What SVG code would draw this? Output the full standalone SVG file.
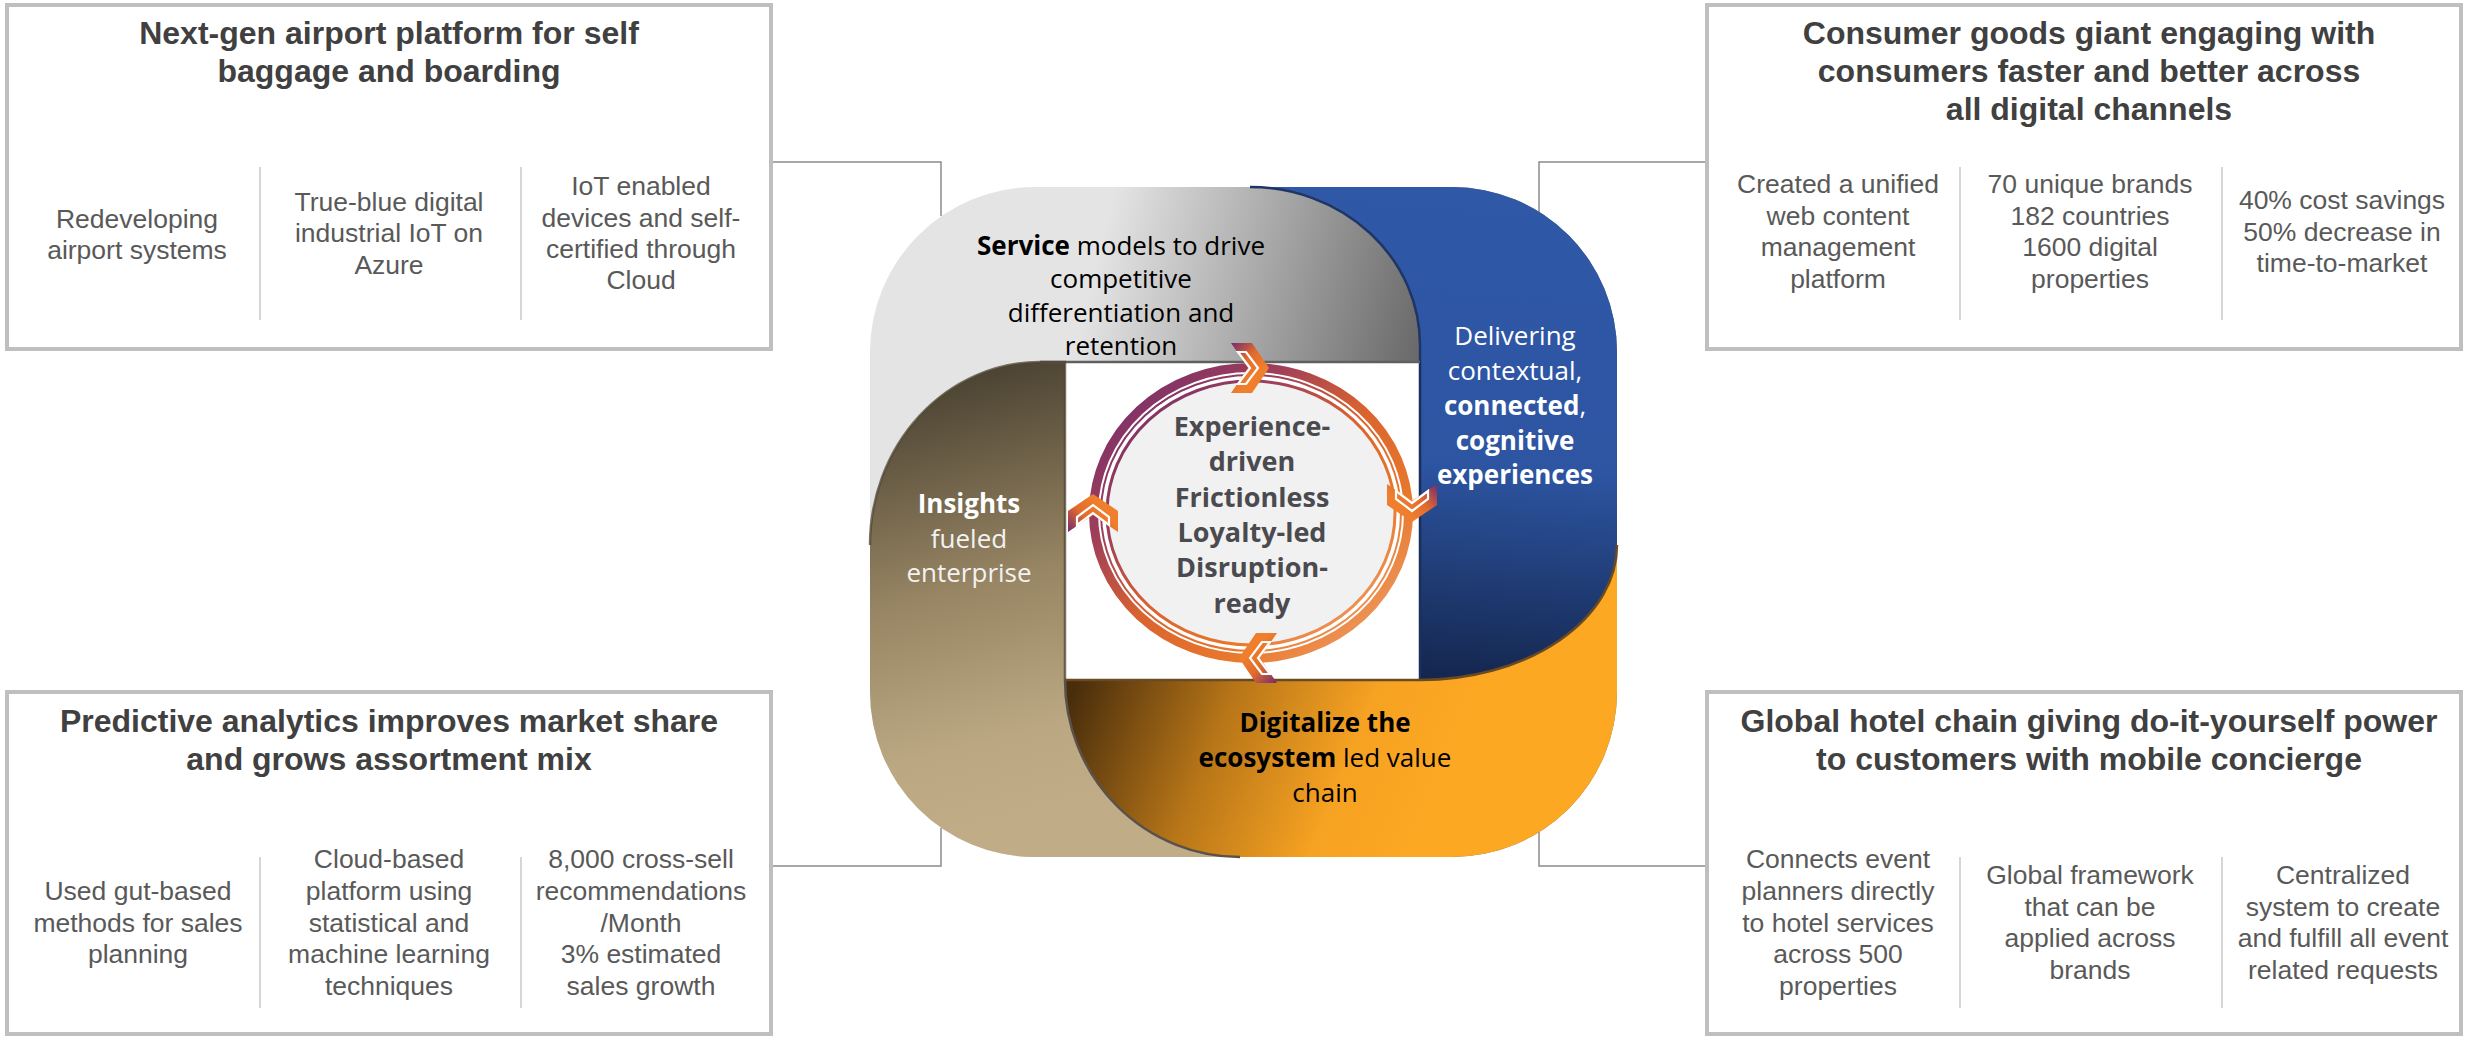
<svg xmlns="http://www.w3.org/2000/svg" xmlns:xlink="http://www.w3.org/1999/xlink" width="2469" height="1038" viewBox="0 0 2469 1038">
<style>
.box{fill:#fff;stroke:#bfbfbf;stroke-width:4}
.dv{stroke:#c8c8c8;stroke-width:1.5}
.ttl{font-family:"Liberation Sans",Arial,sans-serif;font-weight:bold;font-size:32px;fill:#404040;text-anchor:middle}
.bd{font-family:"Liberation Sans",Arial,sans-serif;font-size:26.5px;fill:#595959;text-anchor:middle}
.conn{fill:none;stroke:#8c8c8c;stroke-width:1.5}
.sg{font-family:"Segoe UI","Open Sans",sans-serif;font-size:26px;text-anchor:middle}
.b{font-weight:bold}
.edge{fill:none;stroke-width:2.5}
</style>
<defs>
<linearGradient id="gGray" gradientUnits="userSpaceOnUse" x1="1100" y1="250" x2="1420" y2="330">
<stop offset="0" stop-color="#e4e4e4"/><stop offset="1" stop-color="#6b6b6b"/>
</linearGradient>
<linearGradient id="gBlue" gradientUnits="userSpaceOnUse" x1="1500" y1="187" x2="1460" y2="690">
<stop offset="0" stop-color="#2f58a7"/><stop offset="0.55" stop-color="#2d55a2"/><stop offset="1" stop-color="#13244a"/>
</linearGradient>
<linearGradient id="gOrange" gradientUnits="userSpaceOnUse" x1="1075" y1="690" x2="1420" y2="830">
<stop offset="0" stop-color="#4a2e0c"/><stop offset="0.4" stop-color="#b87618"/><stop offset="0.75" stop-color="#f6a222"/><stop offset="1" stop-color="#fda823"/>
</linearGradient>
<linearGradient id="gBrown" gradientUnits="userSpaceOnUse" x1="930" y1="390" x2="1040" y2="820">
<stop offset="0" stop-color="#4e4534"/><stop offset="0.45" stop-color="#978563"/><stop offset="0.8" stop-color="#bba883"/><stop offset="1" stop-color="#c0ac87"/>
</linearGradient>
<linearGradient id="gRing" x1="0" y1="0" x2="1" y2="1">
<stop offset="0" stop-color="#6b2a72"/><stop offset="0.3" stop-color="#a13f58"/><stop offset="0.5" stop-color="#d9632f"/><stop offset="0.72" stop-color="#e8782c"/><stop offset="1" stop-color="#f0a878"/>
</linearGradient>
<linearGradient id="gChev" x1="0" y1="0" x2="0.55" y2="0.75">
<stop offset="0" stop-color="#732a70"/><stop offset="0.55" stop-color="#e26b2c"/><stop offset="1" stop-color="#ef7f2c"/>
</linearGradient>
<g id="chev">
<polygon points="-19,-25 2,-25 19,0 2,25 -19,25 -2,0" fill="url(#gChev)"/>
<polygon points="-12,-16 -4,-16 8,0 -4,16 -12,16 0,0" fill="none" stroke="#fff" stroke-width="2.2"/>
</g>
</defs>

<g id="connectors">
<path class="conn" d="M773 162 H941 V216"/>
<path class="conn" d="M1705 162 H1539 V212"/>
<path class="conn" d="M773 866 H941 V828"/>
<path class="conn" d="M1705 866 H1539 V832"/>
</g>

<g id="box-airport">
<rect class="box" x="7" y="5" width="764" height="344"/>
<text class="ttl" x="389" y="44">Next-gen airport platform for self</text>
<text class="ttl" x="389" y="82">baggage and boarding</text>
<line class="dv" x1="260" y1="167" x2="260" y2="320"/>
<line class="dv" x1="521" y1="167" x2="521" y2="320"/>
<text class="bd" x="137" y="228">Redeveloping</text>
<text class="bd" x="137" y="259">airport systems</text>
<text class="bd" x="389" y="211">True-blue digital</text>
<text class="bd" x="389" y="242">industrial IoT on</text>
<text class="bd" x="389" y="274">Azure</text>
<text class="bd" x="641" y="195">IoT enabled</text>
<text class="bd" x="641" y="227">devices and self-</text>
<text class="bd" x="641" y="258">certified through</text>
<text class="bd" x="641" y="289">Cloud</text>
</g>

<g id="box-consumer">
<rect class="box" x="1707" y="5" width="754" height="344"/>
<text class="ttl" x="2089" y="44">Consumer goods giant engaging with</text>
<text class="ttl" x="2089" y="82">consumers faster and better across</text>
<text class="ttl" x="2089" y="120">all digital channels</text>
<line class="dv" x1="1960" y1="167" x2="1960" y2="320"/>
<line class="dv" x1="2222" y1="167" x2="2222" y2="320"/>
<text class="bd" x="1838" y="193">Created a unified</text>
<text class="bd" x="1838" y="225">web content</text>
<text class="bd" x="1838" y="256">management</text>
<text class="bd" x="1838" y="288">platform</text>
<text class="bd" x="2090" y="193">70 unique brands</text>
<text class="bd" x="2090" y="225">182 countries</text>
<text class="bd" x="2090" y="256">1600 digital</text>
<text class="bd" x="2090" y="288">properties</text>
<text class="bd" x="2342" y="209">40% cost savings</text>
<text class="bd" x="2342" y="241">50% decrease in</text>
<text class="bd" x="2342" y="272">time-to-market</text>
</g>

<g id="box-predictive">
<rect class="box" x="7" y="692" width="764" height="342"/>
<text class="ttl" x="389" y="732">Predictive analytics improves market share</text>
<text class="ttl" x="389" y="770">and grows assortment mix</text>
<line class="dv" x1="260" y1="857" x2="260" y2="1008"/>
<line class="dv" x1="521" y1="857" x2="521" y2="1008"/>
<text class="bd" x="138" y="900">Used gut-based</text>
<text class="bd" x="138" y="932">methods for sales</text>
<text class="bd" x="138" y="963">planning</text>
<text class="bd" x="389" y="868">Cloud-based</text>
<text class="bd" x="389" y="900">platform using</text>
<text class="bd" x="389" y="932">statistical and</text>
<text class="bd" x="389" y="963">machine learning</text>
<text class="bd" x="389" y="995">techniques</text>
<text class="bd" x="641" y="868">8,000 cross-sell</text>
<text class="bd" x="641" y="900">recommendations</text>
<text class="bd" x="641" y="932">/Month</text>
<text class="bd" x="641" y="963">3% estimated</text>
<text class="bd" x="641" y="995">sales growth</text>
</g>

<g id="box-hotel">
<rect class="box" x="1707" y="692" width="754" height="342"/>
<text class="ttl" x="2089" y="732">Global hotel chain giving do-it-yourself power</text>
<text class="ttl" x="2089" y="770">to customers with mobile concierge</text>
<line class="dv" x1="1960" y1="857" x2="1960" y2="1008"/>
<line class="dv" x1="2222" y1="857" x2="2222" y2="1008"/>
<text class="bd" x="1838" y="868">Connects event</text>
<text class="bd" x="1838" y="900">planners directly</text>
<text class="bd" x="1838" y="932">to hotel services</text>
<text class="bd" x="1838" y="963">across 500</text>
<text class="bd" x="1838" y="995">properties</text>
<text class="bd" x="2090" y="884">Global framework</text>
<text class="bd" x="2090" y="916">that can be</text>
<text class="bd" x="2090" y="947">applied across</text>
<text class="bd" x="2090" y="979">brands</text>
<text class="bd" x="2343" y="884">Centralized</text>
<text class="bd" x="2343" y="916">system to create</text>
<text class="bd" x="2343" y="947">and fulfill all event</text>
<text class="bd" x="2343" y="979">related requests</text>
</g>

<g id="hub">
<rect x="870" y="187" width="747" height="670" rx="165" fill="url(#gGray)"/>
<path d="M1250 187 L1452 187 A165 165 0 0 1 1617 352 L1617 545 A197 135 0 0 1 1420 680 L1420 345 A170 158 0 0 0 1250 187 Z" fill="url(#gBlue)"/>
<path d="M1617 545 L1617 692 A165 165 0 0 1 1452 857 L1240 857 A175 177 0 0 1 1065 680 L1420 680 A197 135 0 0 0 1617 545 Z" fill="url(#gOrange)"/>
<path d="M870 545 A170 183 0 0 1 1040 362 L1065 362 L1065 680 A175 177 0 0 0 1240 857 L1035 857 A165 165 0 0 1 870 692 Z" fill="url(#gBrown)"/>
<rect x="1065" y="362" width="355" height="318" fill="#fff"/>
<path class="edge" d="M1250 187 A170 158 0 0 1 1420 345 L1420 362" stroke="#1e3566" stroke-width="3"/>
<path class="edge" d="M1420 362 L1420 680" stroke="#1b2f5c"/>
<path class="edge" d="M1040 362 L1420 362" stroke="#5f5f5f" stroke-width="3"/>
<path class="edge" d="M870 545 A170 183 0 0 1 1040 362 L1065 362 L1065 680" stroke="#4f4533" stroke-opacity="0.75"/>
<path class="edge" d="M1065 680 L1420 680 A197 135 0 0 0 1617 545" stroke="#6a4a22"/>
<path class="edge" d="M1065 680 A175 177 0 0 0 1240 857" stroke="#5a524a" stroke-width="3"/>

<text class="sg" x="1121" y="255"><tspan class="b">Service</tspan> models to drive</text>
<text class="sg" x="1121" y="288">competitive</text>
<text class="sg" x="1121" y="322">differentiation and</text>
<text class="sg" x="1121" y="355">retention</text>

<text class="sg" x="1515" y="345" fill="#fff">Delivering</text>
<text class="sg" x="1515" y="380" fill="#fff">contextual,</text>
<text class="sg" x="1515" y="415" fill="#fff"><tspan class="b">connected</tspan>,</text>
<text class="sg b" x="1515" y="450" fill="#fff">cognitive</text>
<text class="sg b" x="1515" y="484" fill="#fff">experiences</text>

<text class="sg b" x="969" y="513" fill="#fff">Insights</text>
<text class="sg" x="969" y="548" fill="#f2f2f2">fueled</text>
<text class="sg" x="969" y="582" fill="#f2f2f2">enterprise</text>

<text class="sg b" x="1325" y="732">Digitalize the</text>
<text class="sg" x="1325" y="767"><tspan class="b">ecosystem</tspan> led value</text>
<text class="sg" x="1325" y="802">chain</text>
</g>

<g id="cycle">
<ellipse cx="1251" cy="513" rx="157.5" ry="145.5" fill="none" stroke="url(#gRing)" stroke-width="9"/>
<ellipse cx="1251" cy="513" rx="150" ry="138" fill="none" stroke="url(#gRing)" stroke-width="2"/>
<ellipse cx="1251" cy="513" rx="144" ry="132" fill="#f1f1f1" stroke="url(#gRing)" stroke-width="3"/>
<use xlink:href="#chev" transform="translate(1250,368)"/>
<use xlink:href="#chev" transform="translate(1412,503) rotate(90)"/>
<use xlink:href="#chev" transform="translate(1258,658) rotate(180)"/>
<use xlink:href="#chev" transform="translate(1093,513) rotate(270)"/>
<g font-family="'Segoe UI','Open Sans',sans-serif" font-size="27" font-weight="bold" fill="#4a4a4f" text-anchor="middle">
<text x="1252" y="436">Experience-</text>
<text x="1252" y="471">driven</text>
<text x="1252" y="507">Frictionless</text>
<text x="1252" y="542">Loyalty-led</text>
<text x="1252" y="577">Disruption-</text>
<text x="1252" y="613">ready</text>
</g>
</g>
</svg>
